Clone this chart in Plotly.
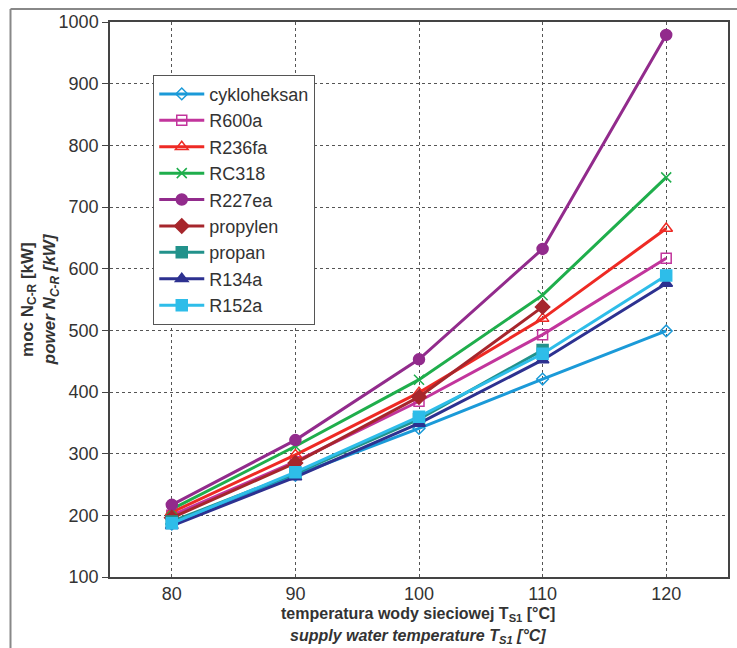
import plotly.graph_objects as go

temps = [80, 90, 100, 110, 120]
temps4 = [80, 90, 100, 110]

cykloheksan = [186, 265, 341, 421, 499]
r600a = [200, 287, 385, 493, 617]
r236fa = [205, 298, 399, 519, 665]
rc318 = [210, 312, 420, 557, 748]
r227ea = [217, 322, 453, 632, 979]
propylen = [196, 285, 392, 538]
propan = [190, 268, 356, 468]
r134a = [183, 262, 349, 452, 576]
r152a = [187, 270, 360, 462, 589]

series = [
    ("cykloheksan", temps, cykloheksan, "#1b9ad8", "diamond-open", 9),
    ("R600a", temps, r600a, "#c2359c", "square-open", 10),
    ("R236fa", temps, r236fa, "#ee2a24", "triangle-up-open", 11),
    ("RC318", temps, rc318, "#1fae4c", "x-thin-open", 10),
    ("R227ea", temps, r227ea, "#922b8c", "circle", 11),
    ("propylen", temps4, propylen, "#a6262c", "diamond", 11),
    ("propan", temps4, propan, "#22928b", "square", 11),
    ("R134a", temps, r134a, "#2d3190", "triangle-up", 11),
    ("R152a", temps, r152a, "#2ebde9", "square", 11),
]

fig = go.Figure()
for name, xs, ys, col, sym, sz in series:
    fig.add_trace(go.Scatter(
        x=xs, y=ys, name=name, mode="lines+markers",
        line=dict(color=col, width=3),
        marker=dict(symbol=sym, size=sz, color=col,
                    line=dict(color=col, width=1.5)),
    ))

font = "Liberation Sans, Arial"
tfont = dict(family=font, size=17, color="#333333")
xfont = dict(family=font, size=16, color="#333333")
fig.update_layout(
    width=737, height=648,
    margin=dict(l=110, r=9, t=22, b=71),
    paper_bgcolor="white", plot_bgcolor="white",
    font=dict(family=font, size=17, color="#333333"),
    showlegend=True,
    legend=dict(x=0.07, y=0.905, xanchor="left", yanchor="top",
                bgcolor="white", bordercolor="#555555", borderwidth=1,
                font=dict(family=font, size=18, color="#333333"),
                tracegroupgap=0, itemwidth=45),
    xaxis=dict(range=[75, 125], tickvals=[80, 90, 100, 110, 120],
               automargin=False,
               showgrid=True, gridcolor="#555555", griddash="dot", gridwidth=1,
               showline=True, linecolor="#444444", linewidth=1.5, mirror=True,
               ticks="", zeroline=False,
               tickfont=dict(size=18, color="#333333")),
    yaxis=dict(range=[100, 1000], tickvals=list(range(100, 1001, 100)),
               automargin=False,
               showgrid=True, gridcolor="#555555", griddash="dot", gridwidth=1,
               showline=True, linecolor="#444444", linewidth=1.5, mirror=True,
               ticks="outside", ticklen=6, tickcolor="#444444", zeroline=False,
               tickfont=dict(size=18, color="#333333")),
    annotations=[
        dict(text="<b>moc N<sub>C-R</sub> [kW]</b>",
             xref="paper", yref="paper", x=-0.132, y=0.5,
             xanchor="center", yanchor="middle", textangle=-90, showarrow=False,
             font=tfont),
        dict(text="<b><i>power N<sub>C-R</sub> [kW]</i></b>",
             xref="paper", yref="paper", x=-0.096, y=0.5,
             xanchor="center", yanchor="middle", textangle=-90, showarrow=False,
             font=tfont),
        dict(text="<b>temperatura wody sieciowej T<sub>S1</sub> [°C]</b>",
             xref="paper", yref="paper", x=0.499, y=-0.0668,
             xanchor="center", yanchor="middle", showarrow=False, font=xfont),
        dict(text="<b><i>supply water temperature T<sub>S1</sub> [°C]</i></b>",
             xref="paper", yref="paper", x=0.499, y=-0.1065,
             xanchor="center", yanchor="middle", showarrow=False, font=xfont),
    ],
    shapes=[
        dict(type="line", xref="paper", yref="paper", x0=-0.161, x1=1.02,
             y0=1.0235, y1=1.0235, line=dict(color="#888888", width=2)),
        dict(type="line", xref="paper", yref="paper", x0=-0.161, x1=-0.161,
             y0=1.0235, y1=-0.2, line=dict(color="#888888", width=2)),
    ],
)

fig.write_html("out.html")
